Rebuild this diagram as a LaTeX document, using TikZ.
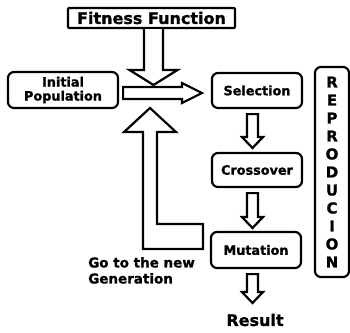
\documentclass[tikz,border=0pt]{standalone}
\usepackage{fontspec}
\setmainfont{DejaVu Sans}[BoldFeatures={FakeBold=1.2}]
\usetikzlibrary{calc}
\begin{document}
\begin{tikzpicture}[x=1pt,y=-1pt,
  box/.style={draw,line width=2.2pt,rounded corners=6pt,inner sep=0pt,align=center,
    font=\bfseries\fontsize{12.8}{14}\selectfont},
  blk/.style={draw,line width=2.2pt,fill=white,line join=miter},
  lbl/.style={inner sep=0pt,font=\bfseries\fontsize{13.5}{16}\selectfont}]
\useasboundingbox (0,0) rectangle (350,332);
% boxes
\node[box,rounded corners=1pt,minimum width=167pt,minimum height=20pt,
  font=\bfseries\fontsize{16}{18}\selectfont] (fit) at (151.5,18) {Fitness Function};
\node[box,minimum width=110pt,minimum height=36pt] (init) at (63,90) {Initial\\Population};
\node[box,minimum width=90pt,minimum height=35pt] (sel) at (257,90.5) {Selection};
\node[box,minimum width=90pt,minimum height=34pt] (cross) at (257,170) {Crossover};
\node[box,minimum width=90pt,minimum height=36pt] (mut) at (256,250) {Mutation};
\node[box,minimum width=34pt,minimum height=210pt,
  font=\bfseries\fontsize{15}{18}\selectfont] (repro) at (332,172)
  {R\\E\\P\\R\\O\\D\\U\\C\\I\\O\\N};
\node[lbl,font=\bfseries\fontsize{16}{18}\selectfont] (res) at (255,320) {Result};
\node[lbl,anchor=north west,align=left] (gen) at (88,257) {Go to the new\\Generation};
% named tips
\coordinate (ffTip) at (153.5,85);
\coordinate (hTip) at (202,93);
\coordinate (scTip) at (252.5,148);
\coordinate (cmTip) at (252.5,228);
\coordinate (mrTip) at (252.5,303);
\coordinate (loopTip) at (150,108);
% fitness down arrow
\draw[blk] let \p1=(fit.south), \p2=(ffTip) in
  (\x2-9.5pt,\y1) -- (\x2-9.5pt,\y2+15pt) -- (\x2-24pt,\y2+15pt) -- (\p2)
  -- (\x2+24pt,\y2+15pt) -- (\x2+9.5pt,\y2+15pt) -- (\x2+9.5pt,\y1);
% horizontal arrow
\draw[blk] let \p1=(init.east), \p2=(hTip) in
  (\x1+4pt,\y2+6pt) -- (\x2-20pt,\y2+6pt) -- (\x2-20pt,\y2+10pt) -- (\p2)
  -- (\x2-20pt,\y2-10pt) -- (\x2-20pt,\y2-6pt) -- (\x1+4pt,\y2-6pt) -- cycle;
% selection -> crossover
\draw[blk] let \p1=(sel.south), \p2=(scTip) in
  (\x2-5.5pt,\y1-5pt) -- (\x2-5.5pt,\y2+11pt) -- (\x2-10.5pt,\y2+11pt) -- (\p2)
  -- (\x2+10.5pt,\y2+11pt) -- (\x2+5.5pt,\y2+11pt) -- (\x2+5.5pt,\y1-5pt) -- cycle;
% crossover -> mutation
\draw[blk] let \p1=(cross.south), \p2=(cmTip) in
  (\x2-5.5pt,\y1-5pt) -- (\x2-5.5pt,\y2+11pt) -- (\x2-10.5pt,\y2+11pt) -- (\p2)
  -- (\x2+10.5pt,\y2+11pt) -- (\x2+5.5pt,\y2+11pt) -- (\x2+5.5pt,\y1-5pt) -- cycle;
% mutation -> result
\draw[blk] let \p1=(mut.south), \p2=(mrTip) in
  (\x2-5.5pt,\y1-5pt) -- (\x2-5.5pt,\y2+11pt) -- (\x2-10.5pt,\y2+11pt) -- (\p2)
  -- (\x2+10.5pt,\y2+11pt) -- (\x2+5.5pt,\y2+11pt) -- (\x2+5.5pt,\y1-5pt) -- cycle;
% loop back L arrow
\draw[blk] let \p1=(mut.west), \p2=(loopTip) in
  (\x1-7pt,224) -- (157,224) -- (157,132) -- (176,132) -- (\p2)
  -- (124,132) -- (143,132) -- (143,249) -- (\x1-7pt,249) -- cycle;
\end{tikzpicture}
\end{document}
